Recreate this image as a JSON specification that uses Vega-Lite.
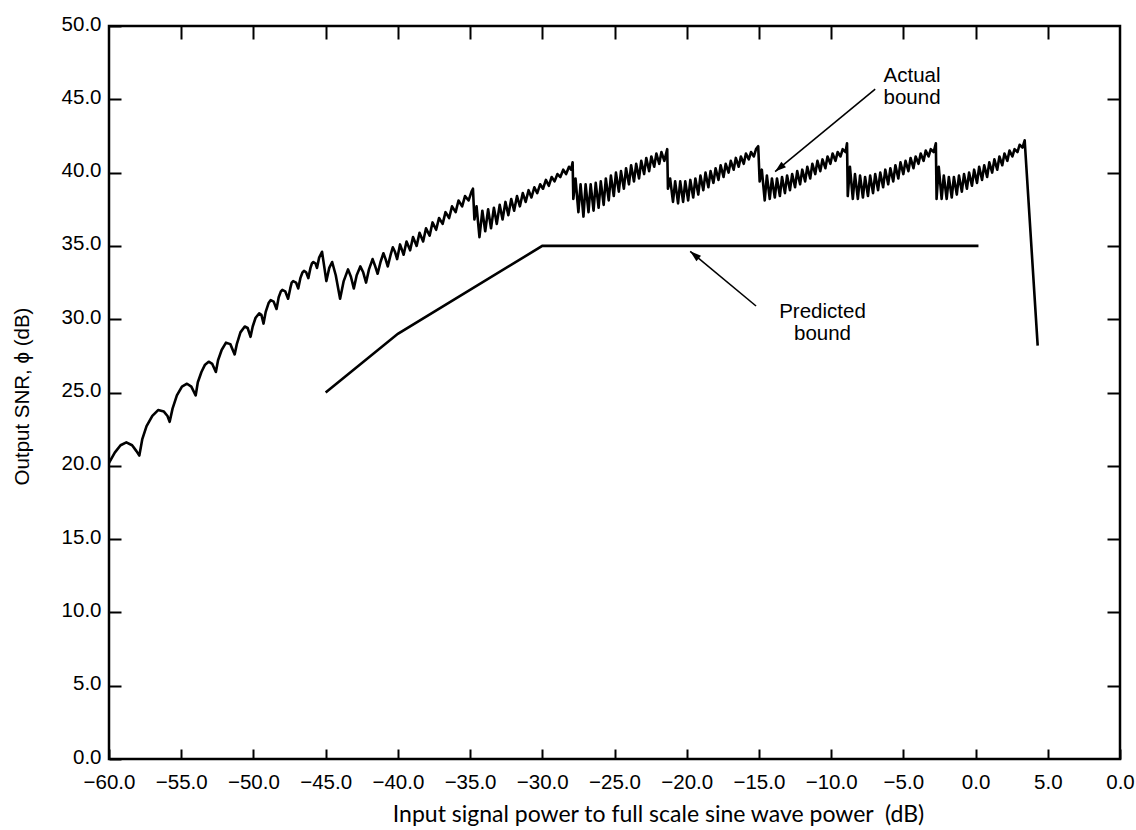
{
  "$schema": "https://vega.github.io/schema/vega-lite/v6.json",
  "width": 1011,
  "height": 733,
  "autosize": "none",
  "padding": {"left": 109, "top": 26, "right": 16, "bottom": 71},
  "background": "white",
  "config": {
    "view": {"stroke": "black", "strokeWidth": 2.5},
    "axis": {"domain": false, "grid": false, "tickColor": "black", "tickWidth": 2, "labelColor": "black", "titleColor": "black"}
  },
  "datasets": {
    "actual": [
      {"x": -60, "y": 20.2}, {"x": -59.6, "y": 20.9}, {"x": -59.2, "y": 21.4}, {"x": -58.8, "y": 21.6}, {"x": -58.4, "y": 21.4}, {"x": -58.1, "y": 21.0}, {"x": -57.9, "y": 20.7},
      {"x": -57.7, "y": 21.8}, {"x": -57.4, "y": 22.7}, {"x": -57.0, "y": 23.4}, {"x": -56.6, "y": 23.8}, {"x": -56.2, "y": 23.7}, {"x": -55.95, "y": 23.4}, {"x": -55.8, "y": 23.0},
      {"x": -55.6, "y": 23.9}, {"x": -55.3, "y": 24.8}, {"x": -54.95, "y": 25.4}, {"x": -54.6, "y": 25.6}, {"x": -54.3, "y": 25.4}, {"x": -54.0, "y": 24.8},
      {"x": -53.85, "y": 25.7}, {"x": -53.6, "y": 26.4}, {"x": -53.35, "y": 26.9}, {"x": -53.1, "y": 27.1}, {"x": -52.85, "y": 26.95}, {"x": -52.6, "y": 26.4},
      {"x": -52.45, "y": 27.2}, {"x": -52.2, "y": 27.9}, {"x": -51.9, "y": 28.4}, {"x": -51.6, "y": 28.3}, {"x": -51.3, "y": 27.6},
      {"x": -51.15, "y": 28.3}, {"x": -50.9, "y": 29.1}, {"x": -50.6, "y": 29.5}, {"x": -50.4, "y": 29.4}, {"x": -50.2, "y": 28.8},
      {"x": -50.05, "y": 29.5}, {"x": -49.85, "y": 30.1}, {"x": -49.6, "y": 30.4}, {"x": -49.45, "y": 30.3}, {"x": -49.3, "y": 29.7},
      {"x": -49.15, "y": 30.5}, {"x": -48.95, "y": 31.1}, {"x": -48.8, "y": 31.3}, {"x": -48.6, "y": 31.2}, {"x": -48.4, "y": 30.7},
      {"x": -48.25, "y": 31.5}, {"x": -48.1, "y": 31.9}, {"x": -48.0, "y": 32.0}, {"x": -47.8, "y": 31.9}, {"x": -47.6, "y": 31.4},
      {"x": -47.45, "y": 32.1}, {"x": -47.35, "y": 32.5}, {"x": -47.25, "y": 32.6}, {"x": -47.05, "y": 32.5}, {"x": -46.9, "y": 32.1},
      {"x": -46.75, "y": 32.8}, {"x": -46.6, "y": 33.2}, {"x": -46.5, "y": 33.3}, {"x": -46.35, "y": 33.2}, {"x": -46.2, "y": 32.8},
      {"x": -46.05, "y": 33.5}, {"x": -45.95, "y": 33.8}, {"x": -45.85, "y": 33.9}, {"x": -45.7, "y": 33.8}, {"x": -45.6, "y": 33.5},
      {"x": -45.45, "y": 34.2}, {"x": -45.25, "y": 34.6},
      {"x": -45.1, "y": 33.6}, {"x": -44.95, "y": 32.6}, {"x": -44.75, "y": 33.5}, {"x": -44.55, "y": 33.9}, {"x": -44.3, "y": 33.0}, {"x": -44.0, "y": 31.4},
      {"x": -43.75, "y": 32.6}, {"x": -43.45, "y": 33.4}, {"x": -43.25, "y": 32.9}, {"x": -43.05, "y": 32.1}, {"x": -42.85, "y": 33.0}, {"x": -42.6, "y": 33.6},
      {"x": -42.4, "y": 33.2}, {"x": -42.2, "y": 32.5}, {"x": -42.0, "y": 33.4}, {"x": -41.75, "y": 34.1}, {"x": -41.6, "y": 33.7}, {"x": -41.4, "y": 33.1},
      {"x": -41.2, "y": 33.9}, {"x": -41.0, "y": 34.5}, {"x": -40.85, "y": 34.1}, {"x": -40.7, "y": 33.6}, {"x": -40.5, "y": 34.4}, {"x": -40.35, "y": 34.9},
      {"x": -40.2, "y": 34.6}, {"x": -40.05, "y": 34.1},
      {"x": -39.85, "y": 35.1}, {"x": -39.6, "y": 34.4}, {"x": -39.4, "y": 35.3}, {"x": -39.15, "y": 34.7}, {"x": -38.95, "y": 35.6}, {"x": -38.7, "y": 35.0},
      {"x": -38.5, "y": 35.9}, {"x": -38.25, "y": 35.3}, {"x": -38.05, "y": 36.2}, {"x": -37.8, "y": 35.7}, {"x": -37.6, "y": 36.6}, {"x": -37.35, "y": 36.1},
      {"x": -37.15, "y": 36.9}, {"x": -36.9, "y": 36.5}, {"x": -36.7, "y": 37.3}, {"x": -36.45, "y": 36.9}, {"x": -36.25, "y": 37.7}, {"x": -36.0, "y": 37.3},
      {"x": -35.8, "y": 38.1}, {"x": -35.55, "y": 37.7}, {"x": -35.35, "y": 38.4}, {"x": -35.1, "y": 38.1}, {"x": -34.9, "y": 38.7}, {"x": -34.8, "y": 38.9},
      {"x": -34.7, "y": 36.8}, {"x": -34.55, "y": 37.7}, {"x": -34.35, "y": 35.6}, {"x": -34.15, "y": 37.4}, {"x": -33.95, "y": 36.0}, {"x": -33.75, "y": 37.5},
      {"x": -33.55, "y": 36.2}, {"x": -33.35, "y": 37.6}, {"x": -33.15, "y": 36.5}, {"x": -32.95, "y": 37.8}, {"x": -32.75, "y": 36.8}, {"x": -32.55, "y": 38.0},
      {"x": -32.35, "y": 37.1}, {"x": -32.15, "y": 38.2}, {"x": -31.95, "y": 37.4}, {"x": -31.75, "y": 38.4}, {"x": -31.55, "y": 37.7}, {"x": -31.35, "y": 38.6},
      {"x": -31.15, "y": 38.0}, {"x": -30.95, "y": 38.8}, {"x": -30.75, "y": 38.3}, {"x": -30.55, "y": 39.0}, {"x": -30.35, "y": 38.6}, {"x": -30.15, "y": 39.2},
      {"x": -29.95, "y": 38.9}, {"x": -29.75, "y": 39.5}, {"x": -29.55, "y": 39.1}, {"x": -29.35, "y": 39.7}, {"x": -29.15, "y": 39.4}, {"x": -28.95, "y": 39.9},
      {"x": -28.75, "y": 39.7}, {"x": -28.55, "y": 40.2}, {"x": -28.35, "y": 39.9}, {"x": -28.15, "y": 40.4}, {"x": -28.0, "y": 40.2}, {"x": -27.9, "y": 40.7},
      {"x": -27.85, "y": 38.2}, {"x": -27.7, "y": 39.6}, {"x": -27.5, "y": 37.3}, {"x": -27.35, "y": 39.2}, {"x": -27.15, "y": 37.0}, {"x": -27.0, "y": 39.2},
      {"x": -26.8, "y": 37.3}, {"x": -26.65, "y": 39.2}, {"x": -26.45, "y": 37.4}, {"x": -26.3, "y": 39.3}, {"x": -26.1, "y": 37.6}, {"x": -25.95, "y": 39.4},
      {"x": -25.75, "y": 37.8}, {"x": -25.6, "y": 39.6}, {"x": -25.4, "y": 38.1}, {"x": -25.25, "y": 39.8}, {"x": -25.05, "y": 38.4}, {"x": -24.9, "y": 40.0},
      {"x": -24.7, "y": 38.7}, {"x": -24.55, "y": 40.1}, {"x": -24.35, "y": 38.9}, {"x": -24.2, "y": 40.3}, {"x": -24.0, "y": 39.2}, {"x": -23.85, "y": 40.5},
      {"x": -23.65, "y": 39.4}, {"x": -23.5, "y": 40.6}, {"x": -23.3, "y": 39.6}, {"x": -23.15, "y": 40.8}, {"x": -22.95, "y": 39.9}, {"x": -22.8, "y": 41.0},
      {"x": -22.6, "y": 40.1}, {"x": -22.45, "y": 41.1}, {"x": -22.25, "y": 40.4}, {"x": -22.1, "y": 41.3}, {"x": -21.9, "y": 40.6}, {"x": -21.75, "y": 41.4},
      {"x": -21.55, "y": 40.8}, {"x": -21.35, "y": 41.6},
      {"x": -21.3, "y": 38.9}, {"x": -21.15, "y": 39.6}, {"x": -20.95, "y": 38.0}, {"x": -20.8, "y": 39.4}, {"x": -20.6, "y": 37.9}, {"x": -20.45, "y": 39.4},
      {"x": -20.25, "y": 38.0}, {"x": -20.1, "y": 39.4}, {"x": -19.9, "y": 38.1}, {"x": -19.75, "y": 39.5}, {"x": -19.55, "y": 38.3}, {"x": -19.4, "y": 39.6},
      {"x": -19.2, "y": 38.5}, {"x": -19.05, "y": 39.8}, {"x": -18.85, "y": 38.8}, {"x": -18.7, "y": 40.0}, {"x": -18.5, "y": 39.0}, {"x": -18.35, "y": 40.1},
      {"x": -18.15, "y": 39.3}, {"x": -18.0, "y": 40.3}, {"x": -17.8, "y": 39.5}, {"x": -17.65, "y": 40.5}, {"x": -17.45, "y": 39.7}, {"x": -17.3, "y": 40.6},
      {"x": -17.1, "y": 40.0}, {"x": -16.95, "y": 40.8}, {"x": -16.75, "y": 40.2}, {"x": -16.6, "y": 41.0}, {"x": -16.4, "y": 40.4}, {"x": -16.25, "y": 41.1},
      {"x": -16.05, "y": 40.6}, {"x": -15.9, "y": 41.3}, {"x": -15.7, "y": 40.9}, {"x": -15.55, "y": 41.4}, {"x": -15.35, "y": 41.1}, {"x": -15.2, "y": 41.6},
      {"x": -15.05, "y": 41.8},
      {"x": -14.95, "y": 39.4}, {"x": -14.8, "y": 40.2}, {"x": -14.6, "y": 38.1}, {"x": -14.45, "y": 39.8}, {"x": -14.25, "y": 38.2}, {"x": -14.1, "y": 39.6},
      {"x": -13.9, "y": 38.3}, {"x": -13.75, "y": 39.6}, {"x": -13.55, "y": 38.4}, {"x": -13.4, "y": 39.7}, {"x": -13.2, "y": 38.6}, {"x": -13.05, "y": 39.8},
      {"x": -12.85, "y": 38.8}, {"x": -12.7, "y": 39.9}, {"x": -12.5, "y": 39.0}, {"x": -12.35, "y": 40.1}, {"x": -12.15, "y": 39.2}, {"x": -12.0, "y": 40.2},
      {"x": -11.8, "y": 39.4}, {"x": -11.65, "y": 40.4}, {"x": -11.45, "y": 39.6}, {"x": -11.3, "y": 40.6}, {"x": -11.1, "y": 39.9}, {"x": -10.95, "y": 40.8},
      {"x": -10.75, "y": 40.1}, {"x": -10.6, "y": 40.9}, {"x": -10.4, "y": 40.3}, {"x": -10.25, "y": 41.1}, {"x": -10.05, "y": 40.6}, {"x": -9.9, "y": 41.3},
      {"x": -9.7, "y": 40.8}, {"x": -9.55, "y": 41.4}, {"x": -9.35, "y": 41.1}, {"x": -9.2, "y": 41.6}, {"x": -9.0, "y": 41.4}, {"x": -8.9, "y": 42.0},
      {"x": -8.85, "y": 38.4}, {"x": -8.7, "y": 40.4}, {"x": -8.5, "y": 38.2}, {"x": -8.35, "y": 39.9}, {"x": -8.15, "y": 38.2}, {"x": -8.0, "y": 39.8},
      {"x": -7.8, "y": 38.3}, {"x": -7.65, "y": 39.7}, {"x": -7.45, "y": 38.4}, {"x": -7.3, "y": 39.8}, {"x": -7.1, "y": 38.6}, {"x": -6.95, "y": 39.9},
      {"x": -6.75, "y": 38.8}, {"x": -6.6, "y": 40.0}, {"x": -6.4, "y": 39.0}, {"x": -6.25, "y": 40.2}, {"x": -6.05, "y": 39.2}, {"x": -5.9, "y": 40.3},
      {"x": -5.7, "y": 39.4}, {"x": -5.55, "y": 40.5}, {"x": -5.35, "y": 39.6}, {"x": -5.2, "y": 40.7}, {"x": -5.0, "y": 39.9}, {"x": -4.85, "y": 40.8},
      {"x": -4.65, "y": 40.1}, {"x": -4.5, "y": 41.0}, {"x": -4.3, "y": 40.3}, {"x": -4.15, "y": 41.1}, {"x": -3.95, "y": 40.6}, {"x": -3.8, "y": 41.3},
      {"x": -3.6, "y": 40.8}, {"x": -3.45, "y": 41.5}, {"x": -3.25, "y": 41.1}, {"x": -3.1, "y": 41.6}, {"x": -2.9, "y": 41.4}, {"x": -2.75, "y": 42.0},
      {"x": -2.7, "y": 38.2}, {"x": -2.55, "y": 40.4}, {"x": -2.35, "y": 38.2}, {"x": -2.2, "y": 39.8}, {"x": -2.0, "y": 38.2}, {"x": -1.85, "y": 39.7},
      {"x": -1.65, "y": 38.3}, {"x": -1.5, "y": 39.7}, {"x": -1.3, "y": 38.5}, {"x": -1.15, "y": 39.8}, {"x": -0.95, "y": 38.7}, {"x": -0.8, "y": 39.9},
      {"x": -0.6, "y": 38.9}, {"x": -0.45, "y": 40.0}, {"x": -0.25, "y": 39.1}, {"x": -0.1, "y": 40.2}, {"x": 0.1, "y": 39.3}, {"x": 0.25, "y": 40.4},
      {"x": 0.45, "y": 39.5}, {"x": 0.6, "y": 40.5}, {"x": 0.8, "y": 39.7}, {"x": 0.95, "y": 40.7}, {"x": 1.15, "y": 40.0}, {"x": 1.3, "y": 40.9},
      {"x": 1.5, "y": 40.2}, {"x": 1.65, "y": 41.1}, {"x": 1.85, "y": 40.5}, {"x": 2.0, "y": 41.3}, {"x": 2.2, "y": 40.8}, {"x": 2.35, "y": 41.5},
      {"x": 2.55, "y": 41.1}, {"x": 2.7, "y": 41.6}, {"x": 2.9, "y": 41.4}, {"x": 3.05, "y": 41.9}, {"x": 3.25, "y": 41.7}, {"x": 3.4, "y": 42.2},
      {"x": 4.3, "y": 28.2}
    ],
    "predicted": [
      {"x": -45, "y": 25.0}, {"x": -40, "y": 29.0}, {"x": -30, "y": 35.0}, {"x": 0.2, "y": 35.0}
    ],
    "arrows": [
      {"x": -6.95, "y": 45.7, "x2": -13.88, "y2": 40.07, "angle": 230},
      {"x": -15.2, "y": 30.9, "x2": -19.76, "y2": 34.63, "angle": 310}
    ],
    "labels": [
      {"x": -4.4, "y": 46.6, "text": "Actual"},
      {"x": -4.4, "y": 45.1, "text": "bound"},
      {"x": -10.6, "y": 30.5, "text": "Predicted"},
      {"x": -10.6, "y": 29.0, "text": "bound"}
    ]
  },
  "resolve": {"axis": {"x": "independent", "y": "independent"}},
  "layer": [
    {
      "data": {"name": "actual"},
      "mark": {"type": "line", "color": "black", "strokeWidth": 2.6, "strokeJoin": "round"},
      "encoding": {
        "x": {
          "field": "x", "type": "quantitative",
          "scale": {"domain": [-60, 10], "nice": false, "zero": false},
          "axis": {
            "orient": "bottom",
            "values": [-60, -55, -50, -45, -40, -35, -30, -25, -20, -15, -10, -5, 0, 5, 10],
            "format": ".1f",
            "labelExpr": "datum.value == 10 ? '0.0' : datum.label",
            "tickSize": -10,
            "labelPadding": 23,
            "labelFont": "Liberation Sans",
            "labelFontSize": 20.5,
            "labelFlush": false,
            "labelOverlap": false,
            "title": "Input signal power to full scale sine wave power \u00a0(dB)",
            "titleFont": "Lato",
            "titleFontSize": 23,
            "titleFontWeight": "normal",
            "titleX": 549,
            "titleY": 62,
            "titleAlign": "center",
            "titleBaseline": "alphabetic"
          }
        },
        "y": {
          "field": "y", "type": "quantitative",
          "scale": {"domain": [0, 50], "nice": false, "zero": false},
          "axis": {
            "orient": "left",
            "values": [0, 5, 10, 15, 20, 25, 30, 35, 40, 45, 50],
            "format": ".1f",
            "tickSize": -12,
            "labelPadding": 20,
            "labelOffset": -2,
            "labelFont": "Liberation Sans",
            "labelFontSize": 20.5,
            "labelFlush": false,
            "labelOverlap": false,
            "title": "Output SNR, ϕ (dB)",
            "titleFont": "Liberation Sans",
            "titleFontSize": 20.5,
            "titleFontWeight": "normal",
            "titleAngle": 270,
            "titleX": -87,
            "titleY": 370,
            "titleAlign": "center",
            "titleBaseline": "middle"
          }
        }
      }
    },
    {
      "data": {"name": "predicted"},
      "mark": {"type": "line", "color": "black", "strokeWidth": 2.6},
      "encoding": {
        "x": {
          "field": "x", "type": "quantitative",
          "axis": {"orient": "top", "values": [-55, -50, -45, -40, -35, -30, -25, -20, -15, -10, -5, 0, 5], "labels": false, "tickSize": -13, "title": null}
        },
        "y": {
          "field": "y", "type": "quantitative",
          "axis": {"orient": "right", "values": [5, 10, 15, 20, 25, 30, 35, 40, 45], "labels": false, "tickSize": -13, "title": null}
        }
      }
    },
    {
      "data": {"name": "arrows"},
      "mark": {"type": "rule", "color": "black", "strokeWidth": 1.6},
      "encoding": {
        "x": {"field": "x", "type": "quantitative", "axis": null},
        "y": {"field": "y", "type": "quantitative", "axis": null},
        "x2": {"field": "x2"},
        "y2": {"field": "y2"}
      }
    },
    {
      "data": {"name": "arrows"},
      "mark": {"type": "point", "shape": "M0,0 L-0.32,1 L0.32,1 Z", "filled": true, "color": "black", "size": 500, "opacity": 1},
      "encoding": {
        "x": {"field": "x2", "type": "quantitative", "axis": null},
        "y": {"field": "y2", "type": "quantitative", "axis": null},
        "angle": {"field": "angle", "type": "quantitative", "scale": null}
      }
    },
    {
      "data": {"name": "labels"},
      "mark": {"type": "text", "font": "Liberation Sans", "fontSize": 20.5, "color": "black", "align": "center", "baseline": "middle"},
      "encoding": {
        "x": {"field": "x", "type": "quantitative", "axis": null},
        "y": {"field": "y", "type": "quantitative", "axis": null},
        "text": {"field": "text"}
      }
    }
  ]
}
